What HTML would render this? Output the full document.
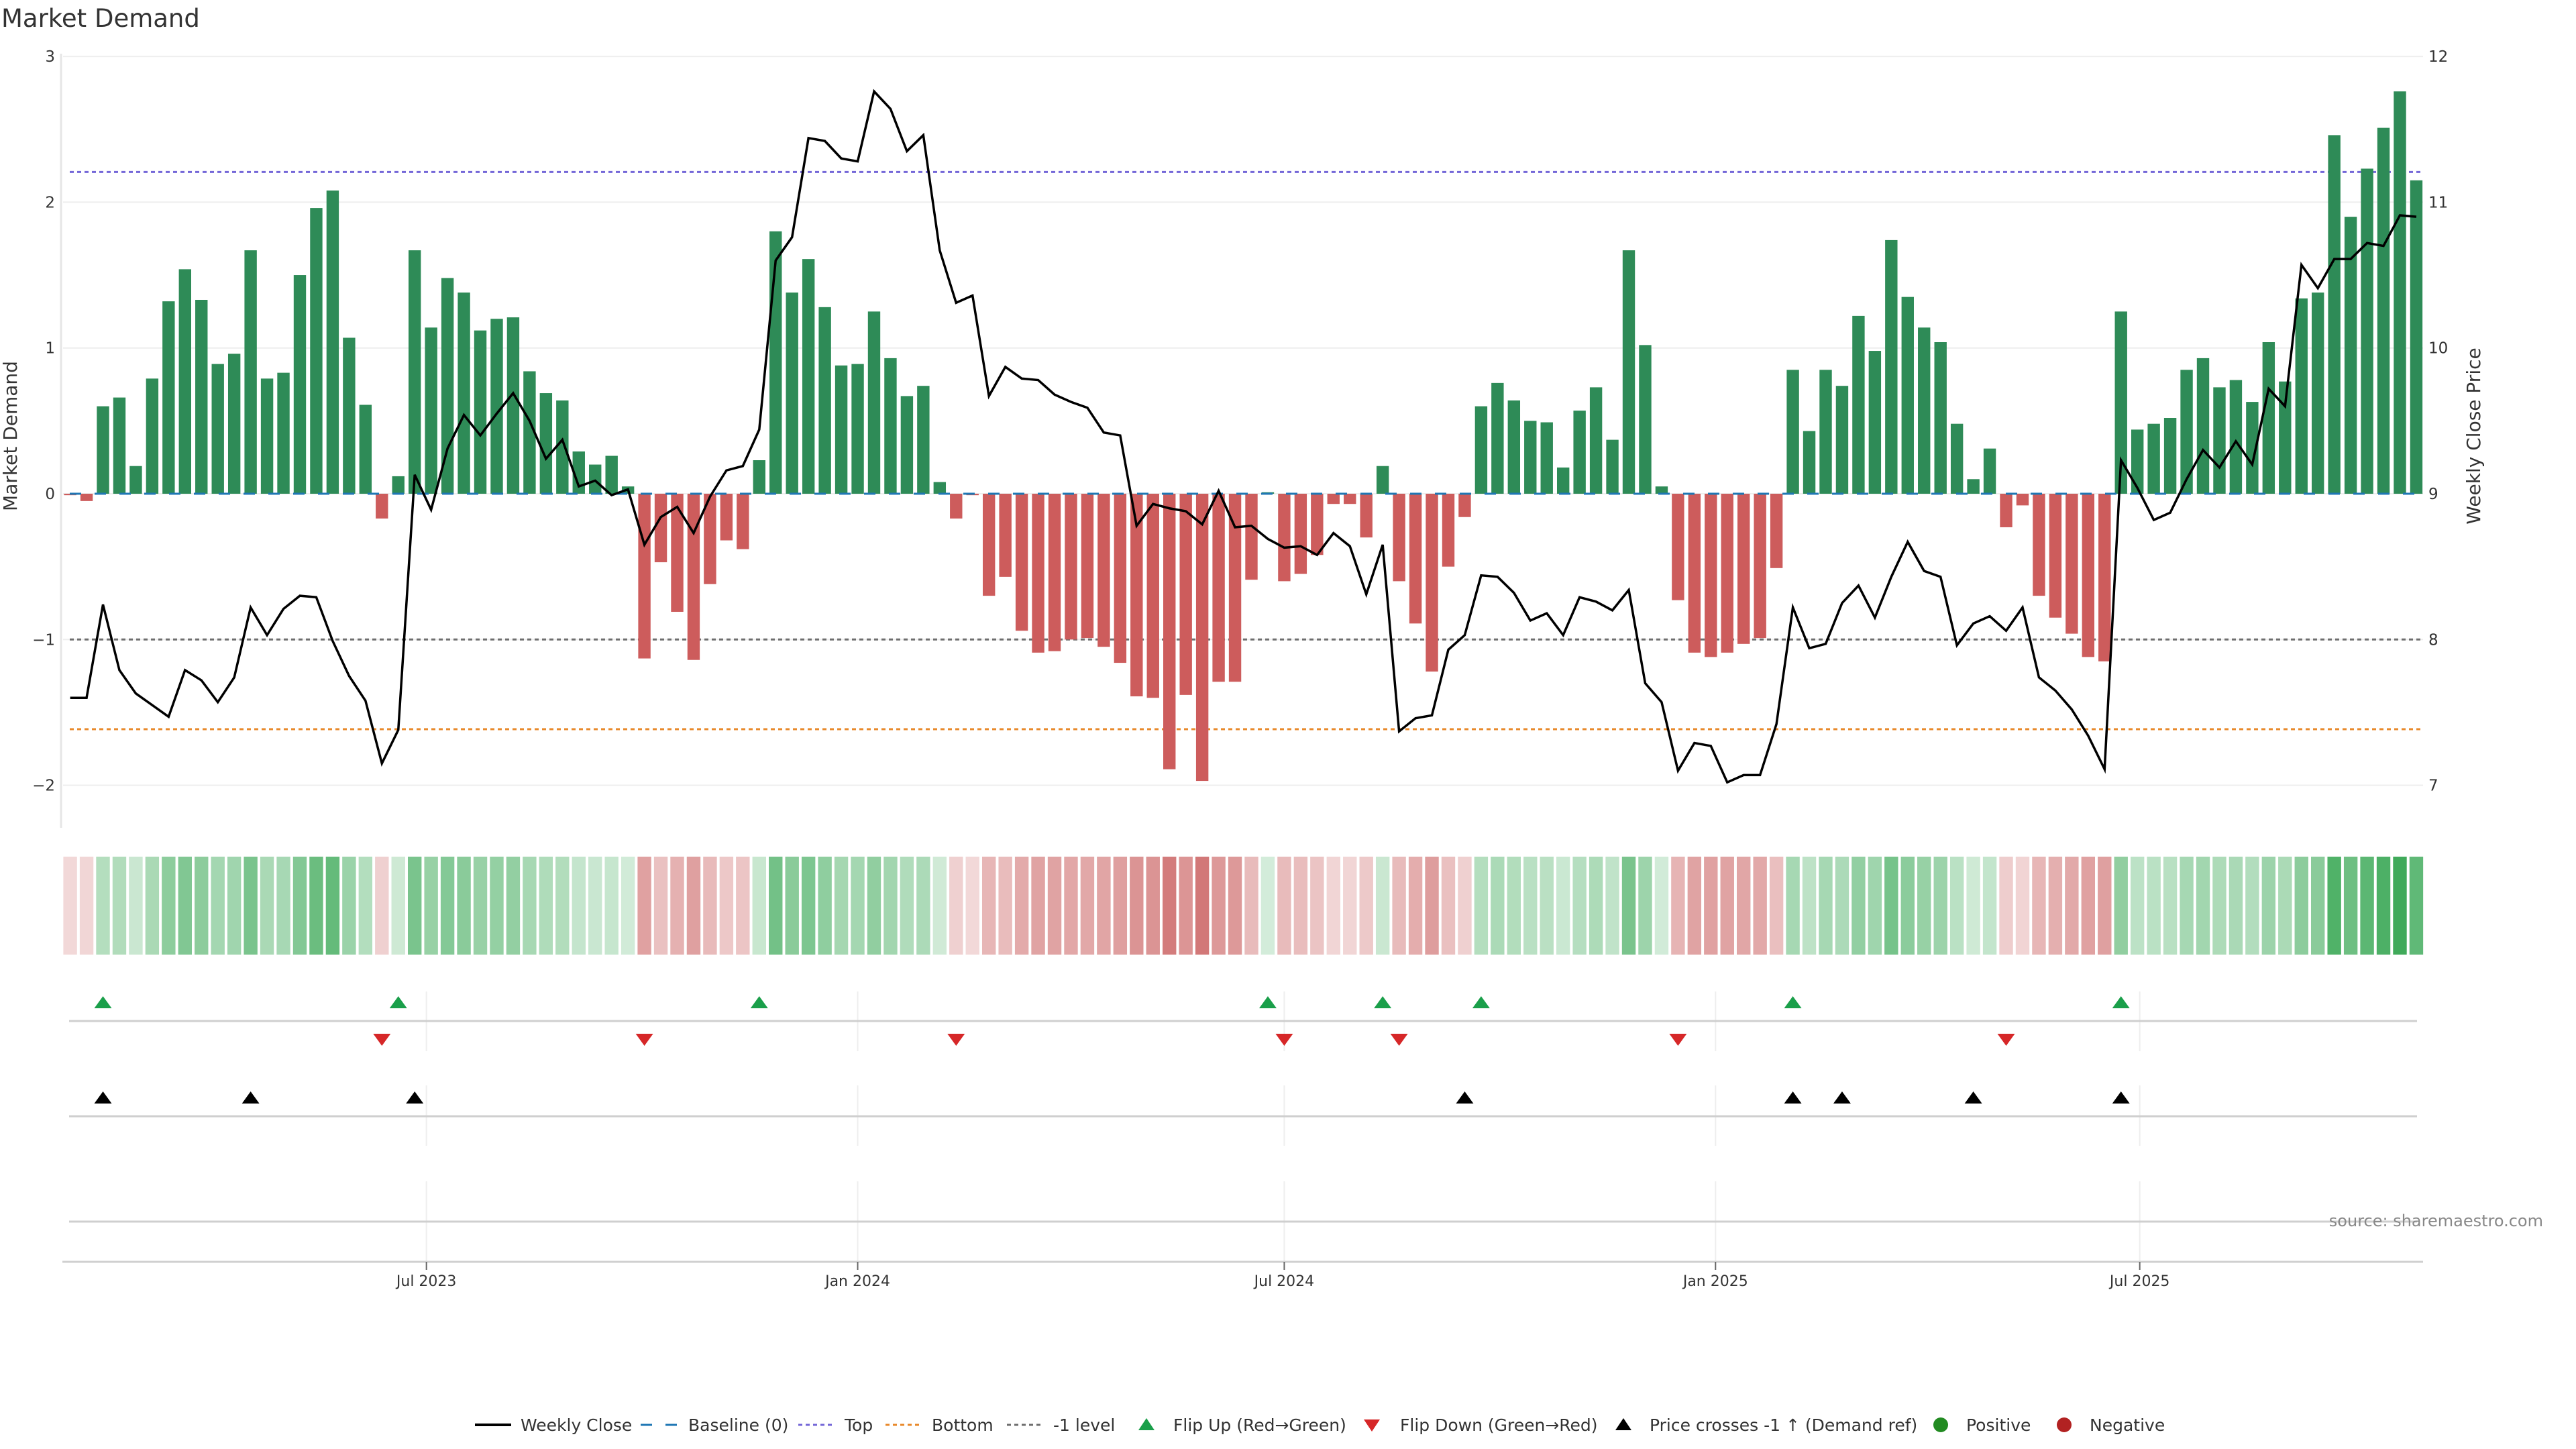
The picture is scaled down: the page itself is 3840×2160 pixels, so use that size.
<!DOCTYPE html>
<html><head><meta charset="utf-8"><style>
html,body{margin:0;padding:0;background:#fff;}
svg{display:block;font-family:"DejaVu Sans","Liberation Sans",sans-serif;}
</style></head><body>
<svg id="chart" width="3840" height="2160" viewBox="0 0 3840 2160" xmlns="http://www.w3.org/2000/svg">
<rect width="3840" height="2160" fill="#fff"/>
<text x="2" y="40" font-size="37" fill="#333">Market Demand</text>
<g id="grid"></g><g id="refs"></g><g id="bars"></g><g id="line"></g><g id="strip"></g><g id="rows"></g><g id="axes"></g><g id="legend"></g>
<text transform="translate(25,650) rotate(-90)" text-anchor="middle" font-size="28" fill="#333">Market Demand</text>
<text transform="translate(3697,650) rotate(-90)" text-anchor="middle" font-size="28" fill="#333">Weekly Close Price</text>
<text x="3791" y="1828" text-anchor="end" font-size="24" fill="#888">source: sharemaestro.com</text>
</svg>
<script>
const demand = [-0.01,-0.05,0.60,0.66,0.19,0.79,1.32,1.54,1.33,0.89,0.96,1.67,0.79,0.83,1.50,1.96,2.08,1.07,0.61,-0.17,0.12,1.67,1.14,1.48,1.38,1.12,1.20,1.21,0.84,0.69,0.64,0.29,0.20,0.26,0.05,-1.13,-0.47,-0.81,-1.14,
-0.62,-0.32,-0.38,0.23,1.80,1.38,1.61,1.28,0.88,0.89,1.25,0.93,0.67,0.74,0.08,-0.17,-0.01,-0.70,-0.57,-0.94,-1.09,-1.08,-1.00,-0.99,-1.05,-1.16,-1.39,-1.40,-1.89,-1.38,-1.97,-1.29,-1.29,-0.59,0.01,-0.60,-0.55,
-0.42,-0.07,-0.07,-0.30,0.19,-0.60,-0.89,-1.22,-0.50,-0.16,0.60,0.76,0.64,0.50,0.49,0.18,0.57,0.73,0.37,1.67,1.02,0.05,-0.73,-1.09,-1.12,-1.09,-1.03,-0.99,-0.51,0.85,0.43,0.85,0.74,1.22,0.98,1.74,1.35,
1.14,1.04,0.48,0.10,0.31,-0.23,-0.08,-0.70,-0.85,-0.96,-1.12,-1.15,1.25,0.44,0.48,0.52,0.85,0.93,0.73,0.78,0.63,1.04,0.77,1.34,1.38,2.46,1.90,2.23,2.51,2.76,2.15];
const price = [7.60,7.60,8.24,7.79,7.63,7.55,7.47,7.79,7.72,7.57,7.74,8.22,8.03,8.21,8.30,8.29,7.99,7.75,7.58,7.15,7.38,9.13,8.89,9.31,9.54,9.40,9.55,9.69,9.50,9.24,9.37,9.05,9.09,8.99,9.03,8.65,8.84,8.91,8.73,
8.98,9.16,9.19,9.44,10.60,10.76,11.44,11.42,11.30,11.28,11.76,11.64,11.35,11.46,10.67,10.31,10.36,9.67,9.87,9.79,9.78,9.68,9.63,9.59,9.42,9.40,8.78,8.93,8.90,8.88,8.79,9.02,8.77,8.78,8.69,8.63,8.64,
8.58,8.73,8.64,8.31,8.65,7.37,7.46,7.48,7.93,8.03,8.44,8.43,8.32,8.13,8.18,8.03,8.29,8.26,8.20,8.34,7.70,7.57,7.10,7.29,7.27,7.02,7.07,7.07,7.42,8.22,7.94,7.97,8.25,8.37,8.15,8.43,8.67,8.47,
8.43,7.96,8.11,8.16,8.06,8.22,7.74,7.65,7.52,7.34,7.11,9.23,9.04,8.82,8.87,9.10,9.30,9.18,9.36,9.20,9.72,9.60,10.57,10.41,10.61,10.61,10.72,10.70,10.91,10.90];
const leftTicks = [3,2,1,0,-1,-2];
const rightTicks = [12,11,10,9,8,7];
const refLevels = [2.207,-1,-1.615];
const priceRef = 8;
const dateTickLabels = ['Jul 2023','Jan 2024','Jul 2024','Jan 2025','Jul 2025'];
const dateTickDates = ['2023-07-01','2024-01-01','2024-07-01','2025-01-01','2025-07-01'];
const startDate = '2023-01-30';

const NS='http://www.w3.org/2000/svg';
function mk(parent,tag,attrs){const e=document.createElementNS(NS,tag);for(const k in attrs)e.setAttribute(k,attrs[k]);parent.appendChild(e);return e;}
const X0=104.6, DX=24.457;
function x(i){return X0+DX*i;}
function xDate(s){const d=(new Date(s+'T00:00:00Z')-new Date(startDate+'T00:00:00Z'))/86400000;return x(d/7);}
function yL(v){return 736-217.3*v;}
function yR(p){return 736-217.3*(p-9);}
const L=94,R=3612;
const g=id=>document.getElementById(id);

// gridlines + ticks
leftTicks.forEach(t=>{
  const ln=mk(g('grid'),'line',{x1:L,x2:3612,y1:yL(t),y2:yL(t),stroke:'#eeeeee','stroke-width':2});
  
  
  const tx=mk(g('axes'),'text',{x:82,y:yL(t)+8,'text-anchor':'end','font-size':23,fill:'#333'});
  tx.textContent=(t<0?'\u2212'+(-t):String(t));
  
  
});
rightTicks.forEach(t=>{
  const tx=mk(g('axes'),'text',{x:3620,y:yR(t)+8,'font-size':23,fill:'#333'});
  tx.textContent=String(t);
  
  
});
const sp=mk(g('axes'),'line',{x1:L-3,x2:L-3,y1:80,y2:1234,stroke:'#e6e6e6','stroke-width':3});



// reference lines
const refColors=['#7467d8','#6e6e6e','#e8892b'];
const refNames=['top-line','minus-one-level-line','bottom-line'];
refLevels.forEach((v,k)=>{
  const ln=mk(g('refs'),'line',{x1:104,x2:3608,y1:yL(v),y2:yL(v),stroke:refColors[k],'stroke-width':3,'stroke-dasharray':'6 5'});
  
  
});

// bars
demand.forEach((v,i)=>{
  const y0=yL(0),y1=yL(v);
  const r=mk(g('bars'),'rect',{x:x(i)-9.2,width:18.4,y:Math.min(y0,y1),height:Math.abs(y1-y0),fill:v>=0?'#2e8b57':'#cd5c5c'});
  
  
});
const bl=mk(g('bars'),'line',{x1:104,x2:3608,y1:yL(0),y2:yL(0),stroke:'#1f77b4','stroke-width':3,'stroke-dasharray':'17 20'});



// price line
const pl=mk(g('line'),'polyline',{points:price.map((p,i)=>x(i)+','+yR(p)).join(' '),fill:'none',stroke:'#000','stroke-width':3.5,'stroke-linejoin':'miter'});



// heat strip
demand.forEach((v,i)=>{
  const a=Math.min(0.95,0.2+0.25*Math.abs(v));
  const base=v>0?[40,160,70]:[190,60,60];
  const c=base.map(b=>Math.round(255-(255-b)*a));
  const r=mk(g('strip'),'rect',{x:x(i)-10.2,width:20.4,y:1277,height:146,fill:'rgb('+c.join(',')+')'});
  
  
});

// event rows
[[1478,1567],[1618,1708],[1761,1880]].forEach(([a,b])=>{
  dateTickDates.forEach(d=>{
    const ln=mk(g('rows'),'line',{x1:xDate(d),x2:xDate(d),y1:a,y2:b,stroke:'#eeeeee','stroke-width':2});
    
    
  });
});
[1522,1664,1821].forEach(y=>{
  const ln=mk(g('rows'),'line',{x1:103,x2:3603,y1:y,y2:y,stroke:'#cfcfcf','stroke-width':3});
  
  
});
function tri(cx,cy,up,fill,name){
  const h=16,w=13;
  const pts=up?[[cx,cy-h/2],[cx-w,cy+h/2+2],[cx+w,cy+h/2+2]]:[[cx-w,cy-h/2-2],[cx+w,cy-h/2-2],[cx,cy+h/2]];
  const p=mk(g('rows'),'polygon',{points:pts.map(q=>q.join(',')).join(' '),fill:fill});
  
  
}
for(let i=1;i<demand.length;i++){
  if(demand[i-1]<=0&&demand[i]>0)tri(x(i),1493,true,'#1a9f4a','flip-up-marker');
  if(demand[i-1]>0&&demand[i]<=0)tri(x(i),1551,false,'#d62728','flip-down-marker');
  if(price[i-1]<priceRef&&price[i]>=priceRef)tri(x(i),1635,true,'#000','price-cross-marker');
}

// x axis
const xa=mk(g('axes'),'line',{x1:93,x2:3612,y1:1881,y2:1881,stroke:'#d0d0d0','stroke-width':3});


dateTickDates.forEach((d,k)=>{
  const tk=mk(g('axes'),'line',{x1:xDate(d),x2:xDate(d),y1:1881,y2:1893,stroke:'#666','stroke-width':2});
  
  
  const t=mk(g('axes'),'text',{x:xDate(d),y:1917,'text-anchor':'middle','font-size':22,fill:'#333'});
  t.textContent=dateTickLabels[k];
  
  
});

// legend
const LY=2124;
const lg=g('legend');
function ltext(xx,s){const t=mk(lg,'text',{x:xx,y:LY+9,'font-size':25,fill:'#333'});t.textContent=s;}
function lline(x1,col,dash,w){const l=mk(lg,'line',{x1:x1,x2:x1+54,y1:LY,y2:LY,stroke:col,'stroke-width':w});if(dash)l.setAttribute('stroke-dasharray',dash);}
lline(708,'#000',null,4);ltext(776,'Weekly Close');
lline(955,'#1f77b4','17 20',3);ltext(1026,'Baseline (0)');
lline(1190,'#7467d8','6 5',3);ltext(1259,'Top');
lline(1320,'#e8892b','6 5',3);ltext(1389,'Bottom');
lline(1501,'#6e6e6e','6 5',3);ltext(1570,'-1 level');
function ltri(cx,up,fill){const h=16,w=12;const pts=up?[[cx,LY-h/2-2],[cx-w,LY+h/2],[cx+w,LY+h/2]]:[[cx-w,LY-h/2],[cx+w,LY-h/2],[cx,LY+h/2+2]];const p=mk(lg,'polygon',{points:pts.map(q=>q.join(',')).join(' '),fill:fill});}
ltri(1709,true,'#1a9f4a');ltext(1749,'Flip Up (Red\u2192Green)');
ltri(2045,false,'#d62728');ltext(2087,'Flip Down (Green\u2192Red)');
ltri(2420,true,'#000');ltext(2459,'Price crosses -1 \u2191 (Demand ref)');
const c1=mk(lg,'circle',{cx:2893,cy:LY,r:11,fill:'#228b22'});


ltext(2931,'Positive');
const c2=mk(lg,'circle',{cx:3077,cy:LY,r:11,fill:'#b22222'});


ltext(3115,'Negative');
</script>
</body></html>
